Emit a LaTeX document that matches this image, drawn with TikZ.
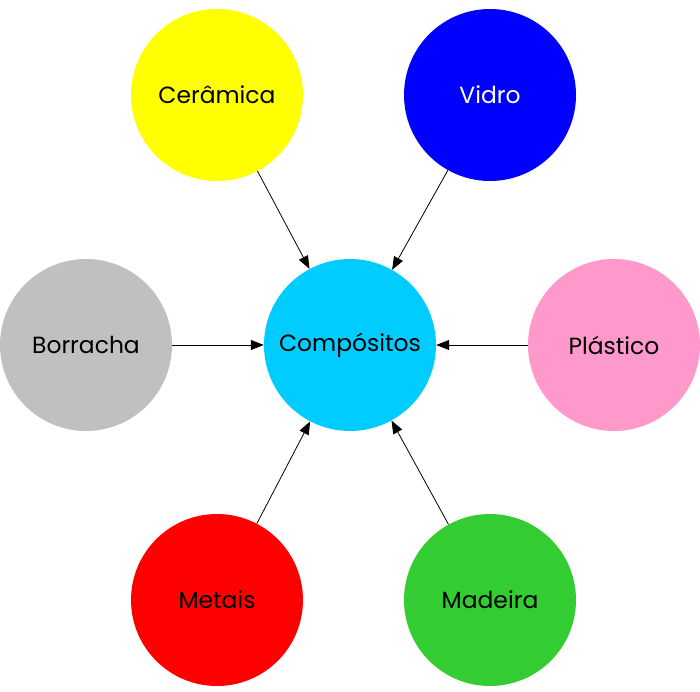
\documentclass[tikz,border=0pt]{standalone}
\usepackage{fontspec}
\setmainfont{Poppins}
\usetikzlibrary{arrows.meta}
\definecolor{cyanC}{HTML}{00CCFF}
\definecolor{yellowC}{HTML}{FFFF00}
\definecolor{pinkP}{HTML}{FF99CC}
\definecolor{greenM}{HTML}{33CC33}
\definecolor{grayB}{HTML}{C0C0C0}
\begin{document}
\begin{tikzpicture}[x=1bp,y=-1bp]
		\tikzset{material/.style = {circle, minimum size=172bp, inner sep=0pt, font=\fontsize{23.5}{26}\selectfont}}
		\tikzset{edge/.style = {-{Triangle[length=13bp,width=10bp]}, line width=0.8bp}}
		
		\useasboundingbox (0,0) rectangle (700,692);
		
		\node[material, fill=cyanC]   (c) at (350,345) {Compósitos};
		\node[material, fill=yellowC] (1) at (217, 95) {Cerâmica};
		\node[material, fill=blue, text=white] (2) at (490, 95) {Vidro};
		\node[material, fill=grayB]   (3) at ( 86,345) {Borracha};
		\node[material, fill=pinkP]   (4) at (614,345) {Plástico};
		\node[material, fill=red]     (5) at (217,600) {Metais};
		\node[material, fill=greenM]  (6) at (490,600) {Madeira};
		
		\draw[edge] (1) to (c);
		\draw[edge] (2) to (c);
		\draw[edge] (3) to (c);
		\draw[edge] (4) to (c);
		\draw[edge] (5) to (c);
		\draw[edge] (6) to (c);
		\end{tikzpicture}
\end{document}
